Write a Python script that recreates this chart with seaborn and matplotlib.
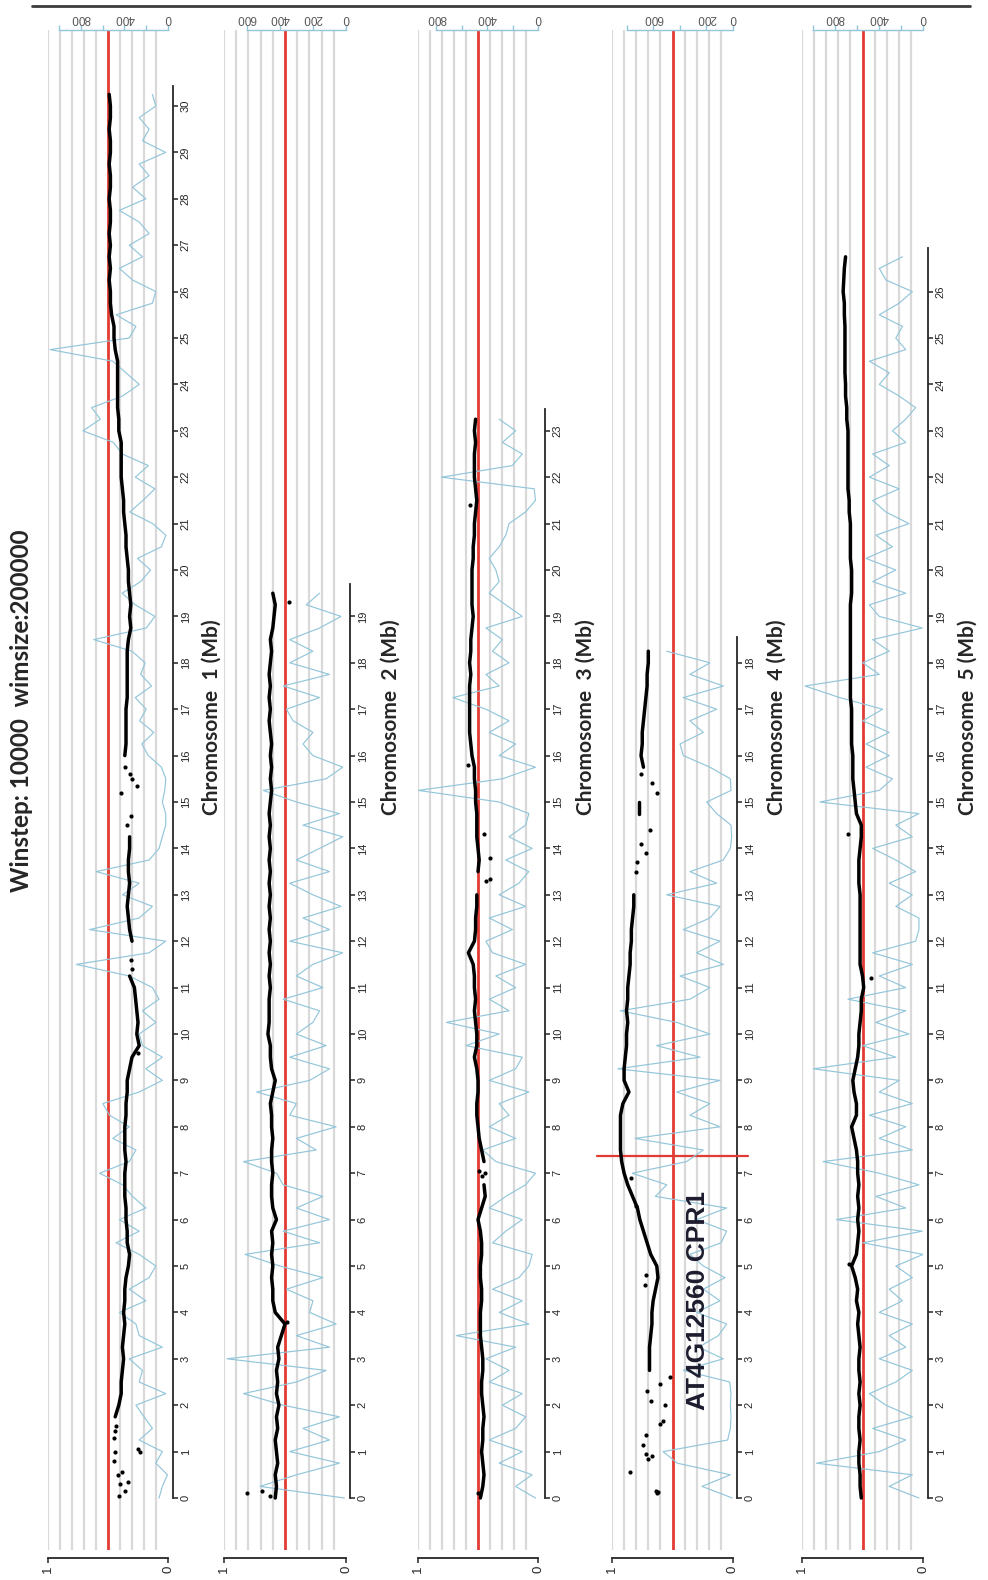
# SNP-index style scan of five chromosomes, drawn rotated like the scanned figure
import numpy as np
import pandas as pd
import matplotlib
matplotlib.use("Agg")
import matplotlib.pyplot as plt
from matplotlib.lines import Line2D
import seaborn as sns

# ------------------------------------------------------------------ data
STEP = 0.25                      # Mb between readings
chr_names = ["1", "2", "3", "4", "5"]
chr_len = [30.43, 19.70, 23.46, 18.55, 26.95]
threshold = 0.5
gene_label = "AT4G12560 CPR1"
gene_chr = 3                     # index of chromosome 4
gene_pos = 7.37
nan = np.nan

# ratio (black), one reading every STEP Mb
ratio_chr1 = [nan, nan, nan, nan, nan, nan, nan,
              .44, .41, .39, .39, .38, .37, .38, .37, .36,
              .37, .36, .36, .35, .33, .32, .34, .34,
              .35, .35, .36, .36, .36, .35, .36, .36,
              .36, .35, .35, .34, .34, .32, .30, .24,
              .26, .25, .26, .27, .28, .32, nan, nan,
              .30, .32, .33, .34, .33, .32, .33, .33,
              .32, .32, nan, nan, nan, nan, nan, nan,
              .36, .35, .35, .35, .35, .34, .34, .34,
              .34, .34, .33, .31, .32, .31, .32, .33,
              .33, .34, .35, .35, .36, .37, .37, .38,
              .39, .39, .39, .39, .41, .41, .42, .42,
              .42, .42, .42, .44, .45, .45, .47, .48,
              .48, .49, .48, .49, .48, .49, .48, .48,
              .49, .48, .48, .49, .48, .48, .49, .48,
              .48, .49]
ratio_chr2 = [.58, .57, .58, .56, .57, .58, .56, .57, .55, .57, .56, .57, .55, .56, .53, .50,
              .58, .60, .60, .61, .60, .61, .60, .61, .57, .60, .61, .61, .60, .61, .61, .60,
              .61, .61, .62, .60, .58, .61, .62, .62, .64, .63, .63, .63, .62, .63, .62, .63,
              .62, .63, .62, .63, .62, .63, .62, .63, .62, .63, .62, .63, .62, .61, .62, .61,
              .62, .61, .62, .63, .62, .63, .62, .63, .62, .61, .62, .60, .59, .58, .60]
ratio_chr3 = [.48, .46, .45, .46, .47, .46, .46, .45, .46, .47, .47, .46, .46, .47, .48, .48,
              .48, .47, .47, .48, .48, .47, .47, .48, .50, .47, .44, .45, nan, .45, .47, .49,
              .50, .51, .51, .50, .50, .51, .53, .51, .51, .52, .53, .52, .53, .53, .54, .58,
              .53, .52, .52, .51, .51, nan, .50, .49, .50, .51, .51, .51, .52, .52, .53, .53,
              .55, .56, .57, .57, .57, .57, .57, .56, .57, .56, .56, .55, .54, .55, .55, .55,
              .55, .54, .54, .53, .53, .52, .51, .52, .53, .53, .53, .52, .53, .52]
ratio_chr4 = [nan, nan, nan, nan, nan, nan, nan, nan, nan, nan, nan, .69,
              .69, .69, .68, .67, .67, .66, .64, .62, .63, .68, .71, .74,
              .77, .79, .83, .87, .90, .92, .93, .93, .93, .93, .91, .86,
              .90, .90, .89, .88, .88, .87, .88, .87, .87, .86, .85, .85,
              .84, .84, .83, .82, .82, nan, nan, nan, nan, nan, nan, .78,
              .78, nan, nan, .74, .76, .75, .75, .74, .73, .72, .71, .71,
              .70, .70]
ratio_chr5 = [.51, .52, .52, .53, .53, .52, .53, .53, .52, .53, .52, .53, .53, .52, .53, .54,
              .53, .55, .54, .56, .59, .55, .54, .53, .54, .53, .54, .53, .54, .54, .55, .57,
              .59, .55, .55, .57, .58, .56, .54, .53, .53, .52, .51, .51, .49, .50, .52, .52,
              .52, .52, .52, .52, .52, .53, .53, .53, .52, .51, .51, .55, .56, .57, .58, .58,
              .58, .59, .59, .59, .59, .60, .60, .60, .60, .60, .60, .60, .60, .60, .59, .59,
              .59, .60, .60, .60, .60, .61, .61, .62, .62, .62, .62, .62, .62, .63, .63, .64,
              .64, .645, .645, .645, .645, .645, .65, .65, .66, .655, .65, .64]

# isolated ratio points off the main trace (Mb, ratio)
dots_chr1 = ([0.05, 0.15, 0.3, 0.35, 0.5, 0.55, 0.8, 1.0, 1.0, 1.05, 1.3, 1.45, 1.55,
              9.6, 11.4, 11.6, 14.5, 14.7, 15.2, 15.35, 15.5, 15.6, 15.75],
             [.41, .36, .40, .33, .42, .38, .45, .44, .23, .25, .45, .44, .43,
              .25, .30, .31, .34, .31, .39, .26, .30, .32, .36])
dots_chr2 = ([0.05, 0.1, 0.15, 3.8, 19.3], [.62, .81, .69, .48, .47])
dots_chr3 = ([0.1, 6.95, 7.0, 7.05, 13.3, 13.35, 13.8, 14.3, 15.8, 21.4],
             [.50, .47, .44, .49, .43, .40, .40, .45, .58, .57])
dots_chr4 = ([0.1, 0.12, 0.15, 0.55, 0.85, 0.9, 0.95, 1.15, 1.35, 1.6, 1.65, 2.0, 2.1,
              2.3, 2.45, 2.6, 4.6, 4.8, 6.3, 6.9, 13.5, 13.7, 13.9, 14.1, 14.4, 15.2,
              15.4, 15.6],
             [.63, .62, .64, .85, .70, .67, .72, .74, .72, .60, .58, .56, .68,
              .71, .60, .52, .73, .72, .80, .84, .80, .79, .72, .76, .69, .63,
              .67, .76])
dots_chr5 = ([5.05, 11.2, 14.3], [.61, .43, .62])

# SNP counts per window (blue), one reading every STEP Mb
count_chr1 = [82, 52, 5, 112, 52, 264, 143, 219, 294, 21, 264, 234, 355, 52, 264, 294,
              446, 203, 355, 173, 112, 264, 476, 264, 446, 203, 325, 416, 627, 355, 294, 506,
              355, 537, 597, 264, 52, 203, 52, 234, 264, 112, 234, 82, 143, 355, 840, 173,
              21, 718, 264, 143, 416, 264, 658, 173, 82, 52, 21, 21, 52, 30, 20, 60,
              180, 240, 130, 260, 200, 300, 150, 250, 210, 330, 680, 200, 120, 300, 420, 250,
              160, 280, 60, 20, 140, 350, 230, 120, 300, 180, 420, 500, 780, 620, 700, 416,
              264, 385, 506, 1080, 355, 294, 476, 143, 112, 325, 446, 234, 355, 173, 264, 446,
              203, 325, 173, 264, 21, 234, 173, 264, 112, 143]
count_chr2 = [10, 520, 300, 40, 340, 100, 260, 40, 380, 620, 300, 120, 720, 100, 300, 60,
              220, 200, 360, 140, 400, 610, 160, 380, 100, 300, 140, 380, 420, 620, 180, 300,
              60, 340, 300, 540, 220, 100, 340, 120, 300, 200, 160, 380, 140, 300, 200, 20,
              340, 100, 260, 30, 200, 340, 100, 300, 160, 20, 260, 40, 300, 500, 120, 20,
              200, 260, 200, 320, 360, 160, 380, 100, 340, 200, 340, 160, 30, 240, 160]
count_chr3 = [20, 176, 46, 306, 124, 384, 176, 98, 280, 124, 384, 228, 410, 176, 644, 72,
              306, 124, 358, 150, 72, 46, 358, 254, 124, 384, 254, 98, 20, 332, 436, 176,
              384, 228, 306, 72, 384, 176, 124, 566, 306, 722, 228, 384, 176, 332, 98, 358,
              410, 202, 384, 98, 306, 150, 72, 254, 46, 228, 98, 72, 306, 943, 280, 20,
              306, 176, 384, 228, 410, 670, 306, 410, 228, 358, 280, 410, 124, 254, 384, 306,
              332, 384, 306, 254, 228, 98, 20, 30, 761, 202, 124, 280, 176, 306]
count_chr4 = [5, 234, 20, 420, 528, 40, 20, 15, 20, 15, 25, 375, 73, 260, 110, 48,
              274, 98, 224, 60, 224, 325, 90, 48, 274, 48, 586, 500, 760, 350, 224, 740,
              98, 325, 174, 425, 98, 870, 249, 576, 174, 425, 850, 325, 174, 400, 73, 274,
              98, 375, 174, 98, 501, 123, 325, 73, 20, 10, 15, 123, 199, 15, 20, 174,
              375, 400, 224, 325, 123, 375, 73, 325, 174, 501]
count_chr5 = [37, 307, 97, 967, 397, 157, 457, 97, 337, 487, 247, 97, 397, 157, 307, 97,
              397, 187, 307, 97, 247, 0, 547, 7, 787, 157, 427, 37, 397, 907, 97, 397,
              157, 487, 97, 397, 217, 997, 247, 547, 127, 427, 157, 682, 157, 397, 97, 457,
              67, 37, 37, 247, 97, 307, 67, 247, 457, 97, 247, 37, 937, 397, 277, 517,
              307, 517, 307, 547, 367, 757, 1072, 397, 547, 307, 457, 7, 397, 487, 157, 457,
              247, 517, 277, 427, 127, 337, 457, 217, 487, 307, 457, 157, 277, 157, 67, 217,
              397, 307, 487, 157, 247, 187, 397, 217, 97, 337, 397, 187]

ratios = [ratio_chr1, ratio_chr2, ratio_chr3, ratio_chr4, ratio_chr5]
counts = [count_chr1, count_chr2, count_chr3, count_chr4, count_chr5]
dots = [dots_chr1, dots_chr2, dots_chr3, dots_chr4, dots_chr5]
count_max_tick = [1000, 600, 800, 800, 1000]
count_labels = [[0, 400, 800], [0, 200, 400, 600], [0, 400, 800], [0, 200, 600], [0, 400, 800]]
grid_levels = [0.1, 0.2, 0.3, 0.4, 0.6, 0.7, 0.8, 0.9, 1.0]

# ------------------------------------------------------------------ layout (pixels)
W, H = 988, 1580
Y_TOP, Y_BOT = 30, 1550
MB0_PX, PX_PER_MB = 1498, 46.4
# x of ratio=1, x of ratio=0, x of count=0, px per count, Mb-axis offset, label x
panels = [
    (48, 168, 169, 0.110, 5, 212),
    (224, 346, 347, 0.1667, 4, 391),
    (418, 538, 539, 0.128, 7, 586),
    (612, 733, 733, 0.1325, 4, 777),
    (802, 923, 924, 0.111, 5, 968),
]

BLUE = "#93c6da"
RED = "#e23b33"
GRID = "#d9d9d9"

sns.set_style("white")
plt.rcParams["font.family"] = ["Liberation Sans", "DejaVu Sans"]

fig = plt.figure(figsize=(W / 100, H / 100), dpi=100)
ylim = ((MB0_PX - Y_BOT) / PX_PER_MB, (MB0_PX - Y_TOP) / PX_PER_MB)

for i, (x1, x0, c0, kc, off, lab_x) in enumerate(panels):
    rect = [x1 / W, 1 - Y_BOT / H, (x0 - x1) / W, (Y_BOT - Y_TOP) / H]
    ax = fig.add_axes(rect)
    ax.set_xlim(1, 0)
    ax.set_ylim(*ylim)
    for g in grid_levels:
        ax.axvline(g, color=GRID, lw=1.6, zorder=0)
    ax.axvline(threshold, color=RED, lw=2.0, zorder=1)

    # Mb axis on the right
    L = chr_len[i]
    for s in ["left", "top"]:
        ax.spines[s].set_visible(False)
    ax.spines["right"].set_position(("outward", off * 0.72))
    ax.spines["right"].set_bounds(0, L)
    ax.spines["right"].set_linewidth(1.3)
    ax.yaxis.set_ticks_position("right")
    ax.set_yticks(range(0, int(L) + 1))
    ax.set_yticklabels([str(t) for t in range(0, int(L) + 1)])
    ax.tick_params(axis="y", labelsize=8, length=3.5, width=1.1, pad=2,
                   labelrotation=90)
    for t in ax.get_yticklabels():
        t.set_va("center")

    # ratio axis at the bottom
    ax.spines["bottom"].set_position(("outward", 8 * 0.72))
    ax.spines["bottom"].set_bounds(0, 1)
    ax.spines["bottom"].set_linewidth(1.3)
    ax.set_xticks([0, 1])
    ax.set_xticklabels(["0", "1"])
    ax.tick_params(axis="x", labelsize=9.5, length=3.5, width=1.1, pad=2,
                   labelrotation=90)

    # count axis on top (blue)
    ax2 = ax.twiny()
    ax2.set_xlim((c0 - x1) / kc, (c0 - x0) / kc)
    pos_c = np.arange(len(counts[i])) * STEP
    sns.lineplot(x=counts[i], y=pos_c, ax=ax2, orient="y", estimator=None,
                 color=BLUE, lw=0.85)
    for s in ["bottom", "left", "right"]:
        ax2.spines[s].set_visible(False)
    ax2.spines["top"].set_bounds(0, count_max_tick[i])
    ax2.spines["top"].set_color(BLUE)
    ax2.spines["top"].set_linewidth(1.0)
    ticks = list(range(0, count_max_tick[i] + 1, 200))
    ax2.set_xticks(ticks)
    ax2.set_xticklabels([str(t) if t in count_labels[i] else "" for t in ticks])
    ax2.tick_params(axis="x", colors=BLUE, labelcolor="#555555", labelsize=8.5,
                    length=3.5, width=1.0, pad=1, labelrotation=180)
    ax2.set_xlabel("")
    ax2.set_ylabel("")

    # ratio trace (black) above everything
    ax3 = ax.twiny()
    ax3.set_xlim(1, 0)
    df = pd.DataFrame({"pos": np.arange(len(ratios[i])) * STEP, "ratio": ratios[i]})
    df["seg"] = df["ratio"].isna().cumsum()
    df = df.dropna()
    sns.lineplot(data=df, x="ratio", y="pos", units="seg", estimator=None,
                 orient="y", color="black", lw=2.5, ax=ax3)
    sns.scatterplot(x=dots[i][1], y=dots[i][0], ax=ax3, color="black",
                    s=9, linewidth=0)
    ax3.axis("off")
    ax.set_xlabel("")
    ax.set_ylabel("")

    fig.text(lab_x / W, 1 - 717 / H, f"Chromosome  {chr_names[i]} (Mb)",
             rotation=90, ha="center", va="center", fontsize=15,
             fontweight="bold", family=["Lato", "DejaVu Sans"])

    if i == gene_chr:
        ax.axhline(gene_pos, xmin=-0.124, xmax=1.124, color=RED, lw=1.6,
                   clip_on=False, zorder=5)

fig.text(698 / W, 1 - 1300 / H, gene_label, rotation=90, ha="center", va="center",
         fontsize=19, fontweight="bold", color="#1c1c2e",
         family=["Liberation Sans", "DejaVu Sans"])
fig.text(22 / W, 1 - 711 / H, "Winstep: 10000  wimsize:200000", rotation=90,
         ha="center", va="center", fontsize=17.5, fontweight="bold",
         family=["Lato", "DejaVu Sans"])
fig.add_artist(Line2D([32 / W, 970 / W], [1 - 6 / H, 1 - 6 / H], color="#3c3c3c", lw=2))

fig.savefig("out.png", dpi=100)
